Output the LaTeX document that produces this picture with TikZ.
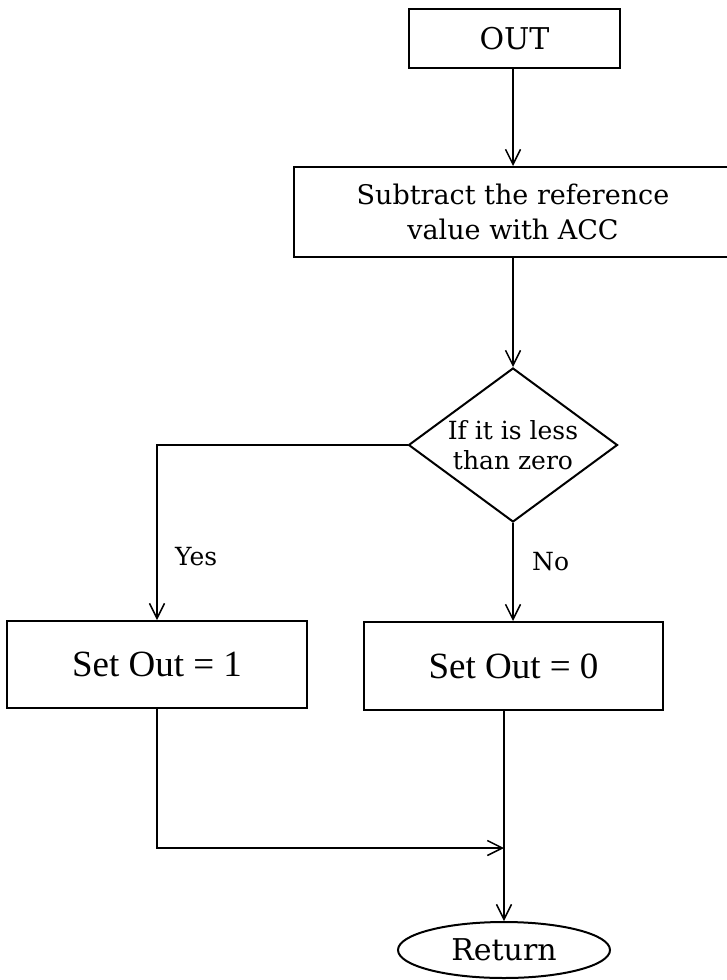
\documentclass[tikz,border=0pt]{standalone}
\usepackage{fontspec}
\setmainfont{DejaVu Serif}
\newfontfamily\timesfont{Liberation Serif}
\usetikzlibrary{arrows.meta,shapes.geometric,calc}

\tikzset{
  box/.style={draw, line width=2pt, rectangle, inner sep=0pt, align=center},
  decision/.style={draw, line width=2pt, diamond, inner sep=0pt},
  terminal/.style={draw, line width=2pt, ellipse, inner sep=0pt},
  flow/.style={line width=2pt, -{Straight Barb[length=15pt,width=15pt,line width=1.5pt]}},
  branch/.style={font=\fontsize{25}{28}\selectfont, inner sep=0pt, anchor=west},
}

\begin{document}
\begin{tikzpicture}[x=1pt, y=-1pt]
  \useasboundingbox (0,0) rectangle (726,980);

  % process blocks
  \node[box, minimum width=211pt, minimum height=59pt,
        font=\fontsize{30}{34}\selectfont] (out) at (514.5,38.5) {OUT};
  \node[box, minimum width=438pt, minimum height=90pt,
        font=\fontsize{27}{35}\selectfont] (sub) at (513,212)
        {Subtract the reference\\value with ACC};
  % decision: the outline and its two-line text
  \node[decision, minimum width=209pt, minimum height=154pt] (dq) at (513,445) {};
  \node[align=center, inner sep=0pt, font=\fontsize{25}{30}\selectfont]
        (dqtext) at (513,445) {If it is less\\than zero};
  \node[box, minimum width=300pt, minimum height=87pt,
        font=\timesfont\fontsize{37}{40}\selectfont] (s1) at (157,664.5) {Set Out = 1};
  \node[box, minimum width=299pt, minimum height=88pt,
        font=\timesfont\fontsize{37}{40}\selectfont] (s0) at (513.5,666) {Set Out = 0};
  \node[terminal, minimum width=212pt, minimum height=56pt,
        font=\fontsize{30}{34}\selectfont] (ret) at (504,950) {Return};

  % branch labels
  \node[branch] (yes) at (175,557) {Yes};
  \node[branch] (no) at (532,562) {No};

  % junction above the return
  \coordinate (join) at (504,848);

  % connectors
  \draw[flow] (out.south -| dq.north) -- (sub.north -| dq.north);
  \draw[flow] (sub.south -| dq.north) -- (dq.north);
  \draw[flow] (dq.west) -| (s1.north);
  \draw[flow] (dq.south) -- (dq.south |- s0.north);
  \draw[flow] (s1.south) |- (join);
  \draw[flow] (s0.south -| ret.north) -- (ret.north);
\end{tikzpicture}
\end{document}
